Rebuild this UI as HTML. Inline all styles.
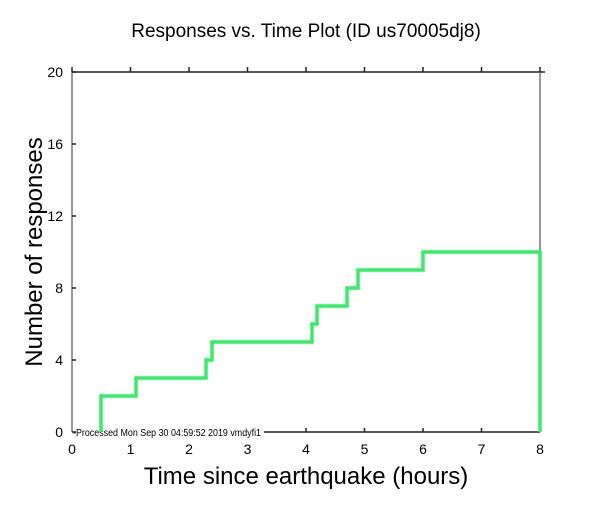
<!DOCTYPE html>
<html><head><style>body{margin:0;background:#fff}</style></head><body>
<svg width="612" height="504" xmlns="http://www.w3.org/2000/svg" font-family="Liberation Sans, sans-serif">
<rect width="612" height="504" fill="#fff"/>
<text x="306" y="37" font-size="19" text-anchor="middle">Responses vs. Time Plot (ID us70005dj8)</text>
<line x1="72" y1="72" x2="540" y2="72" stroke="#222" stroke-width="1.5"/>
<line x1="72" y1="72" x2="72" y2="432" stroke="#777" stroke-width="1.5"/>
<line x1="540" y1="72" x2="540" y2="432" stroke="#777" stroke-width="1.5"/>
<line x1="264" y1="432" x2="540" y2="432" stroke="#222" stroke-width="1.5"/>
<g stroke="#222" stroke-width="1.5">
<line x1="72" y1="72" x2="72" y2="67"/><line x1="130.5" y1="72" x2="130.5" y2="67"/><line x1="189" y1="72" x2="189" y2="67"/><line x1="247.5" y1="72" x2="247.5" y2="67"/><line x1="306" y1="72" x2="306" y2="67"/><line x1="364.5" y1="72" x2="364.5" y2="67"/><line x1="423" y1="72" x2="423" y2="67"/><line x1="481.5" y1="72" x2="481.5" y2="67"/><line x1="540" y1="72" x2="540" y2="67"/>
<line x1="306" y1="432" x2="306" y2="428"/><line x1="364.5" y1="432" x2="364.5" y2="428"/><line x1="423" y1="432" x2="423" y2="428"/><line x1="481.5" y1="432" x2="481.5" y2="428"/><line x1="540" y1="432" x2="540" y2="428"/>
<line x1="72" y1="432" x2="76" y2="432"/><line x1="72" y1="360" x2="76" y2="360"/><line x1="72" y1="288" x2="76" y2="288"/><line x1="72" y1="216" x2="76" y2="216"/><line x1="72" y1="144" x2="76" y2="144"/><line x1="72" y1="72" x2="76" y2="72"/>
<line x1="540" y1="72" x2="545" y2="72"/>
</g>
<g font-size="14" text-anchor="end">
<text x="63" y="437">0</text><text x="63" y="365">4</text><text x="63" y="293">8</text><text x="63" y="221">12</text><text x="63" y="149">16</text><text x="63" y="77">20</text>
</g>
<g font-size="14" text-anchor="middle">
<text x="72" y="454">0</text><text x="130.5" y="454">1</text><text x="189" y="454">2</text><text x="247.5" y="454">3</text><text x="306" y="454">4</text><text x="364.5" y="454">5</text><text x="423" y="454">6</text><text x="481.5" y="454">7</text><text x="540" y="454">8</text>
</g>
<text x="73" y="436" font-size="10" textLength="188" lengthAdjust="spacingAndGlyphs">-Processed Mon Sep 30 04:59:52 2019 vmdyfi1</text>
<text x="306" y="484" font-size="24" text-anchor="middle">Time since earthquake (hours)</text>
<text transform="translate(42,252) rotate(-90)" font-size="24" text-anchor="middle">Number of responses</text>
<polyline fill="none" stroke="#33ee66" stroke-width="3.5" points="101,432 101,396 136,396 136,378 206,378 206,360 212,360 212,342 312,342 312,324 317,324 317,306 347,306 347,288 358,288 358,270 423,270 423,252 540,252 540,432"/>
</svg>
</body></html>
